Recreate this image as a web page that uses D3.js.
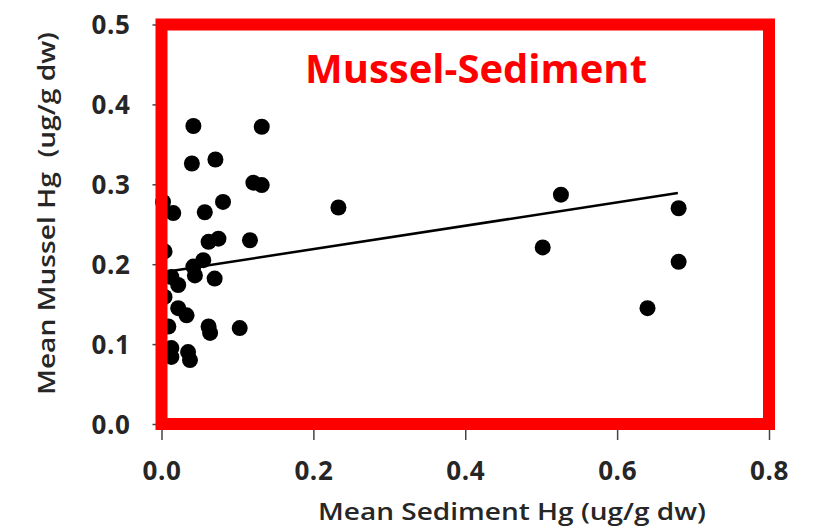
<!DOCTYPE html>
<html>
<head>
<meta charset="utf-8">
<script src="https://cdn.jsdelivr.net/npm/d3@7"></script>
<style>
  html, body { margin: 0; padding: 0; background: #fff; }
  svg { display: block; }
</style>
</head>
<body>
<svg id="chart" width="817" height="530"></svg>
<script>
const sedimentHg = [0.042, 0.132, 0.040, 0.071, 0.121, 0.132, 0.002, 0.0155, 0.057, 0.081,
  0.062, 0.075, 0.1165, 0.004, 0.042, 0.055, 0.044, 0.013, 0.022, 0.070,
  0.004, 0.022, 0.033, 0.009, 0.062, 0.064, 0.103, 0.013, 0.013, 0.035, 0.0375,
  0.233, 0.526, 0.502, 0.681, 0.681, 0.640];
const musselHg = [0.373, 0.372, 0.326, 0.331, 0.302, 0.299, 0.278, 0.264, 0.265, 0.278,
  0.228, 0.232, 0.230, 0.216, 0.197, 0.205, 0.186, 0.184, 0.174, 0.182,
  0.159, 0.145, 0.136, 0.122, 0.122, 0.114, 0.120, 0.095, 0.084, 0.090, 0.080,
  0.271, 0.287, 0.221, 0.270, 0.203, 0.145];
const trendX = [0.0, 0.68];
const trendY = [0.1897, 0.289];
const xTicks = [0.0, 0.2, 0.4, 0.6, 0.8];
const yTicks = [0.0, 0.1, 0.2, 0.3, 0.4, 0.5];
const chartTitle = "Mussel-Sediment";
const xTitle = "Mean Sediment Hg (ug/g dw)";
const yTitle = "Mean Mussel Hg  (ug/g dw)";

const svg = d3.select("#chart");
const x = d3.scaleLinear().domain([0, 0.8]).range([161.5, 769]);
const y = d3.scaleLinear().domain([0, 0.5]).range([424, 24.5]);
const font = "'Open Sans', 'DejaVu Sans', sans-serif";
const textCol = "#262626";

// Y axis
const yAxis = svg.append("g")
  .attr("transform", `translate(${x(0)},0)`)
  .call(d3.axisLeft(y).tickValues(yTicks).tickFormat(d3.format(".1f")).tickSize(9).tickPadding(22));
yAxis.select(".domain").remove();
yAxis.selectAll(".tick line").attr("stroke", "#444").attr("stroke-width", 1.5);
yAxis.selectAll(".tick text")
  .attr("font-family", font).attr("font-weight", 700).attr("font-size", 26)
  .attr("fill", textCol).attr("letter-spacing", 0.6).attr("dy", "0.36em");

// X axis
const xAxis = svg.append("g")
  .attr("transform", `translate(0,${y(0)})`)
  .call(d3.axisBottom(x).tickValues(xTicks).tickFormat(d3.format(".1f")).tickSize(16).tickPadding(22));
xAxis.select(".domain").remove();
xAxis.selectAll(".tick line").attr("stroke", "#444").attr("stroke-width", 1.5);
xAxis.selectAll(".tick text")
  .attr("font-family", font).attr("font-weight", 700).attr("font-size", 26)
  .attr("fill", textCol).attr("letter-spacing", 0.6).attr("dy", "0.7em");

// Points
svg.append("g").selectAll("circle")
  .data(sedimentHg.map((d, i) => [d, musselHg[i]]))
  .join("circle")
  .attr("cx", d => x(d[0]))
  .attr("cy", d => y(d[1]))
  .attr("r", 8)
  .attr("fill", "#000");

// Trend line
svg.append("path")
  .datum(trendX.map((d, i) => [d, trendY[i]]))
  .attr("d", d3.line().x(d => x(d[0])).y(d => y(d[1])))
  .attr("fill", "none").attr("stroke", "#000").attr("stroke-width", 2.5);

// Red frame
svg.append("rect")
  .attr("x", x(0)).attr("y", y(0.5))
  .attr("width", x(0.8) - x(0)).attr("height", y(0) - y(0.5))
  .attr("fill", "none").attr("stroke", "#ff0000").attr("stroke-width", 12);

// Title
svg.append("text")
  .attr("x", 476).attr("y", 83)
  .attr("text-anchor", "middle")
  .attr("font-family", font).attr("font-weight", 700).attr("font-size", 40)
  .attr("fill", "#ff0000")
  .attr("textLength", 342).attr("lengthAdjust", "spacingAndGlyphs")
  .text(chartTitle);

// X title
svg.append("text")
  .attr("x", 512).attr("y", 520)
  .attr("text-anchor", "middle")
  .attr("font-family", font).attr("font-weight", 600).attr("font-size", 23)
  .attr("fill", textCol)
  .attr("textLength", 388).attr("lengthAdjust", "spacingAndGlyphs")
  .text(xTitle);

// Y title
svg.append("text")
  .attr("transform", "translate(55,213.5) rotate(-90)")
  .attr("text-anchor", "middle")
  .attr("font-family", font).attr("font-weight", 600).attr("font-size", 23)
  .attr("fill", textCol)
  .attr("textLength", 363).attr("lengthAdjust", "spacingAndGlyphs")
  .attr("xml:space", "preserve")
  .style("white-space", "pre")
  .text(yTitle);
</script>
</body>
</html>
